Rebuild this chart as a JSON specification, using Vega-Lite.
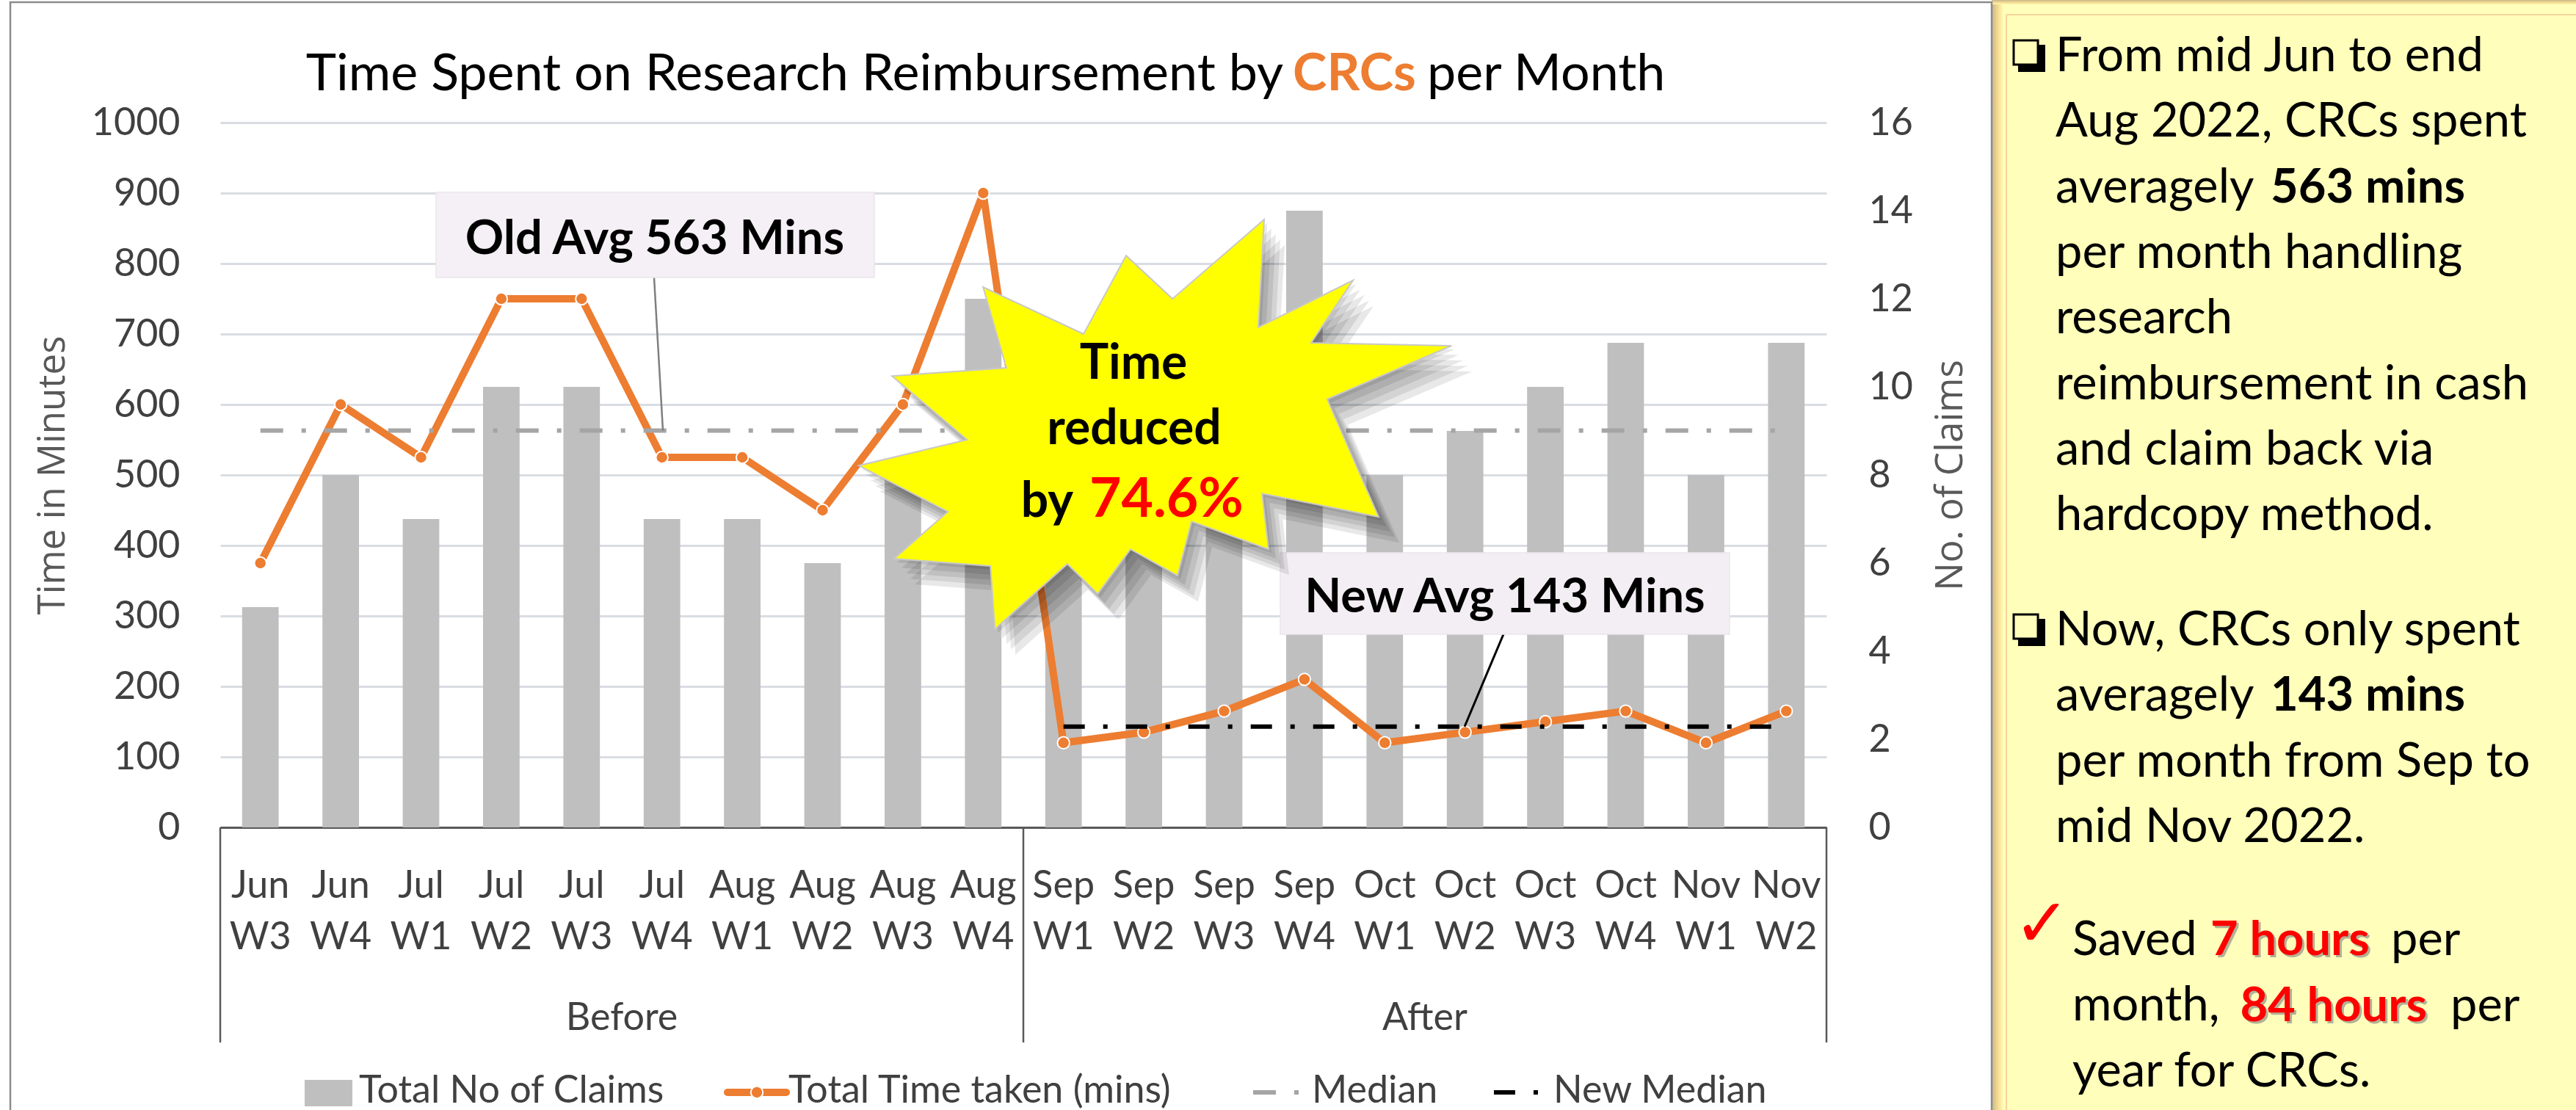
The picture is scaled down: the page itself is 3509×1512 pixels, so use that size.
{
  "$schema": "https://vega.github.io/schema/vega-lite/v6.json",
  "width": 2188,
  "height": 960,
  "autosize": {"type": "none"},
  "padding": {"left": 300, "top": 167, "right": 1021, "bottom": 385},
  "background": "#FFFFFF",
  "config": {"font": "Lato", "view": {"stroke": null}},
  "data": {"values": [
    {"period": "Before", "cat": "Jun W3", "claims": 5, "minutes": 375, "median": 563, "new_median": null},
    {"period": "Before", "cat": "Jun W4", "claims": 8, "minutes": 600, "median": 563, "new_median": null},
    {"period": "Before", "cat": "Jul W1", "claims": 7, "minutes": 525, "median": 563, "new_median": null},
    {"period": "Before", "cat": "Jul W2", "claims": 10, "minutes": 750, "median": 563, "new_median": null},
    {"period": "Before", "cat": "Jul W3", "claims": 10, "minutes": 750, "median": 563, "new_median": null},
    {"period": "Before", "cat": "Jul W4", "claims": 7, "minutes": 525, "median": 563, "new_median": null},
    {"period": "Before", "cat": "Aug W1", "claims": 7, "minutes": 525, "median": 563, "new_median": null},
    {"period": "Before", "cat": "Aug W2", "claims": 6, "minutes": 450, "median": 563, "new_median": null},
    {"period": "Before", "cat": "Aug W3", "claims": 8, "minutes": 600, "median": 563, "new_median": null},
    {"period": "Before", "cat": "Aug W4", "claims": 12, "minutes": 900, "median": 563, "new_median": null},
    {"period": "After", "cat": "Sep W1", "claims": 8, "minutes": 120, "median": 563, "new_median": 143},
    {"period": "After", "cat": "Sep W2", "claims": 9, "minutes": 135, "median": 563, "new_median": 143},
    {"period": "After", "cat": "Sep W3", "claims": 11, "minutes": 165, "median": 563, "new_median": 143},
    {"period": "After", "cat": "Sep W4", "claims": 14, "minutes": 210, "median": 563, "new_median": 143},
    {"period": "After", "cat": "Oct W1", "claims": 8, "minutes": 120, "median": 563, "new_median": 143},
    {"period": "After", "cat": "Oct W2", "claims": 9, "minutes": 135, "median": 563, "new_median": 143},
    {"period": "After", "cat": "Oct W3", "claims": 10, "minutes": 150, "median": 563, "new_median": 143},
    {"period": "After", "cat": "Oct W4", "claims": 11, "minutes": 165, "median": 563, "new_median": 143},
    {"period": "After", "cat": "Nov W1", "claims": 8, "minutes": 120, "median": 563, "new_median": 143},
    {"period": "After", "cat": "Nov W2", "claims": 11, "minutes": 165, "median": 563, "new_median": 143}
  ]},
  "layer": [
    {
      "mark": {"type": "bar", "color": "#BFBFBF", "width": {"band": 0.455}},
      "encoding": {
        "x": {"field": "cat", "type": "nominal", "sort": null,
          "scale": {"type": "band", "paddingInner": 0, "paddingOuter": 0},
          "axis": {"title": null, "labelExpr": "split(datum.value, ' ')", "labelAngle": 0, "labelFontSize": 52, "labelColor": "#404040", "labelLineHeight": 70, "labelPadding": 54, "ticks": false, "domainColor": "#595959", "domainWidth": 3, "grid": false, "labelBaseline": "top"}},
        "y": {"field": "claims", "type": "quantitative",
          "scale": {"domain": [0, 16], "nice": false},
          "axis": {"orient": "right", "values": [0, 2, 4, 6, 8, 10, 12, 14, 16], "grid": false, "domain": false, "ticks": false, "labelPadding": 57, "labelFontSize": 52, "labelColor": "#404040", "title": "No. of Claims", "titleFont": "Open Sans", "titleFontSize": 51, "titleFontWeight": "normal", "titleColor": "#595959", "titleAngle": 270, "titleX": 169, "titleY": 480, "titleAlign": "center", "titleBaseline": "middle"}}
      }
    },
    {
      "mark": {"type": "line", "color": "#ED7D31", "strokeWidth": 10, "strokeJoin": "round"},
      "encoding": {
        "x": {"field": "cat", "type": "nominal", "sort": null, "scale": {"type": "band", "paddingInner": 0, "paddingOuter": 0}, "axis": null},
        "y": {"field": "minutes", "type": "quantitative",
          "scale": {"domain": [0, 1000], "nice": false},
          "axis": {"orient": "left", "values": [0, 100, 200, 300, 400, 500, 600, 700, 800, 900, 1000], "format": "d", "grid": true, "gridColor": "#D9DDE3", "gridWidth": 3, "gridOpacity": 1, "domain": false, "ticks": false, "labelPadding": 55, "labelFontSize": 52, "labelColor": "#404040", "title": "Time in Minutes", "titleFont": "Open Sans", "titleFontSize": 51, "titleFontWeight": "normal", "titleColor": "#595959", "titleAngle": 270, "titleX": -228, "titleY": 480, "titleAlign": "center", "titleBaseline": "middle"}}
      }
    },
    {
      "mark": {"type": "point", "filled": true, "size": 270, "fill": "#ED7D31", "stroke": "#FFFFFF", "strokeWidth": 2, "opacity": 1},
      "encoding": {
        "x": {"field": "cat", "type": "nominal", "sort": null, "scale": {"type": "band", "paddingInner": 0, "paddingOuter": 0}, "axis": null},
        "y": {"field": "minutes", "type": "quantitative", "scale": {"domain": [0, 1000], "nice": false}, "axis": null}
      }
    },
    {
      "mark": {"type": "line", "color": "#A5A5A5", "strokeWidth": 6, "strokeDash": [31, 25, 6, 25]},
      "encoding": {
        "x": {"field": "cat", "type": "nominal", "sort": null, "scale": {"type": "band", "paddingInner": 0, "paddingOuter": 0}, "axis": null},
        "y": {"field": "median", "type": "quantitative", "scale": {"domain": [0, 1000], "nice": false}, "axis": null}
      }
    },
    {
      "mark": {"type": "line", "color": "#000000", "strokeWidth": 6, "strokeDash": [29, 25, 6, 25]},
      "encoding": {
        "x": {"field": "cat", "type": "nominal", "sort": null, "scale": {"type": "band", "paddingInner": 0, "paddingOuter": 0}, "axis": null},
        "y": {"field": "new_median", "type": "quantitative", "scale": {"domain": [0, 1000], "nice": false}, "axis": null}
      }
    },
    {
      "data": {"values": [{}]},
      "layer": [
        {"mark": {"type": "rect", "fill": "#FFFFBB"},
         "encoding": {"x": {"datum": 22.057, "type": "quantitative", "scale": {"domain": [0, 20], "nice": false, "zero": false}, "axis": null}, "x2": {"datum": 29.6},
                      "y": {"datum": 1174, "type": "quantitative", "scale": {"domain": [0, 1000], "nice": false, "zero": false}, "axis": null}, "y2": {"datum": -430}}},
        {"mark": {"type": "rect", "fill": {"gradient": "linear", "x1": 0, "y1": 0, "x2": 1, "y2": 0, "stops": [{"offset": 0, "color": "#C4B68E"}, {"offset": 0.5, "color": "#F2D68D"}, {"offset": 1, "color": "#FFF8B0"}]}},
         "encoding": {"x": {"datum": 22.057, "type": "quantitative", "scale": {"domain": [0, 20], "nice": false, "zero": false}, "axis": null}, "x2": {"datum": 22.194},
                      "y": {"datum": 1174, "type": "quantitative", "scale": {"domain": [0, 1000], "nice": false, "zero": false}, "axis": null}, "y2": {"datum": -430}}},
        {"mark": {"type": "rect", "fill": {"gradient": "linear", "x1": 0, "y1": 0, "x2": 0, "y2": 1, "stops": [{"offset": 0, "color": "#C4B68E"}, {"offset": 0.5, "color": "#F2D68D"}, {"offset": 1, "color": "#FFF8B0"}]}},
         "encoding": {"x": {"datum": 22.057, "type": "quantitative", "scale": {"domain": [0, 20], "nice": false, "zero": false}, "axis": null}, "x2": {"datum": 29.6},
                      "y": {"datum": 1174, "type": "quantitative", "scale": {"domain": [0, 1000], "nice": false, "zero": false}, "axis": null}, "y2": {"datum": 1167.7}}},
        {"mark": {"type": "rule", "color": "#F5C690", "strokeWidth": 1.5},
         "encoding": {"x": {"datum": 22.24, "type": "quantitative", "scale": {"domain": [0, 20], "nice": false, "zero": false}, "axis": null}, "x2": {"datum": 22.24},
                      "y": {"datum": 1153.1, "type": "quantitative", "scale": {"domain": [0, 1000], "nice": false, "zero": false}, "axis": null}, "y2": {"datum": -430}}},
        {"mark": {"type": "rule", "color": "#F5C690", "strokeWidth": 1.5},
         "encoding": {"x": {"datum": 22.24, "type": "quantitative", "scale": {"domain": [0, 20], "nice": false, "zero": false}, "axis": null}, "x2": {"datum": 29.6},
                      "y": {"datum": 1153.1, "type": "quantitative", "scale": {"domain": [0, 1000], "nice": false, "zero": false}, "axis": null}, "y2": {"datum": 1153.1}}},
        {"mark": {"type": "rect", "fillOpacity": 0, "stroke": "#8C8C8C", "strokeWidth": 2.5},
         "encoding": {"x": {"datum": -2.614, "type": "quantitative", "scale": {"domain": [0, 20], "nice": false, "zero": false}, "axis": null}, "x2": {"datum": 22.057},
                      "y": {"datum": 1170.8, "type": "quantitative", "scale": {"domain": [0, 1000], "nice": false, "zero": false}, "axis": null}, "y2": {"datum": -430}}},

        {"mark": {"type": "rule", "color": "#595959", "strokeWidth": 2.5},
         "encoding": {"x": {"datum": 0, "type": "quantitative", "scale": {"domain": [0, 20], "nice": false, "zero": false}, "axis": null},
                      "y": {"datum": 0, "type": "quantitative", "scale": {"domain": [0, 1000], "nice": false, "zero": false}, "axis": null}, "y2": {"datum": -305.2}}},
        {"mark": {"type": "rule", "color": "#595959", "strokeWidth": 2.5},
         "encoding": {"x": {"datum": 10, "type": "quantitative", "scale": {"domain": [0, 20], "nice": false, "zero": false}, "axis": null},
                      "y": {"datum": 0, "type": "quantitative", "scale": {"domain": [0, 1000], "nice": false, "zero": false}, "axis": null}, "y2": {"datum": -305.2}}},
        {"mark": {"type": "rule", "color": "#595959", "strokeWidth": 2.5},
         "encoding": {"x": {"datum": 20, "type": "quantitative", "scale": {"domain": [0, 20], "nice": false, "zero": false}, "axis": null},
                      "y": {"datum": 0, "type": "quantitative", "scale": {"domain": [0, 1000], "nice": false, "zero": false}, "axis": null}, "y2": {"datum": -305.2}}},
        {"mark": {"type": "text", "text": "Before", "fontSize": 52, "color": "#404040", "align": "center", "baseline": "alphabetic"},
         "encoding": {"x": {"datum": 5, "type": "quantitative", "scale": {"domain": [0, 20], "nice": false, "zero": false}, "axis": null},
                      "y": {"datum": -287.5, "type": "quantitative", "scale": {"domain": [0, 1000], "nice": false, "zero": false}, "axis": null}}},
        {"mark": {"type": "text", "text": "After", "fontSize": 52, "color": "#404040", "align": "center", "baseline": "alphabetic"},
         "encoding": {"x": {"datum": 15, "type": "quantitative", "scale": {"domain": [0, 20], "nice": false, "zero": false}, "axis": null},
                      "y": {"datum": -287.5, "type": "quantitative", "scale": {"domain": [0, 1000], "nice": false, "zero": false}, "axis": null}}},

        {"mark": {"type": "rule", "color": "#7F7F7F", "strokeWidth": 2.5},
         "encoding": {"x": {"datum": 5.402, "type": "quantitative", "scale": {"domain": [0, 20], "nice": false, "zero": false}, "axis": null}, "x2": {"datum": 5.512},
                      "y": {"datum": 780.2, "type": "quantitative", "scale": {"domain": [0, 1000], "nice": false, "zero": false}, "axis": null}, "y2": {"datum": 563}}},
        {"mark": {"type": "rect", "fill": "#F5F0F5", "stroke": "#EBE5ED", "strokeWidth": 1.5},
         "encoding": {"x": {"datum": 2.687, "type": "quantitative", "scale": {"domain": [0, 20], "nice": false, "zero": false}, "axis": null}, "x2": {"datum": 8.144},
                      "y": {"datum": 901.0, "type": "quantitative", "scale": {"domain": [0, 1000], "nice": false, "zero": false}, "axis": null}, "y2": {"datum": 780.2}}},
        {"mark": {"type": "text", "text": "Old Avg 563 Mins", "fontSize": 65, "fontWeight": "bold", "color": "#000000", "align": "center", "baseline": "alphabetic"},
         "encoding": {"x": {"datum": 5.411, "type": "quantitative", "scale": {"domain": [0, 20], "nice": false, "zero": false}, "axis": null},
                      "y": {"datum": 813.5, "type": "quantitative", "scale": {"domain": [0, 1000], "nice": false, "zero": false}, "axis": null}}},

        {"mark": {"type": "rule", "color": "#000000", "strokeWidth": 3},
         "encoding": {"x": {"datum": 15.978, "type": "quantitative", "scale": {"domain": [0, 20], "nice": false, "zero": false}, "axis": null}, "x2": {"datum": 15.494},
                      "y": {"datum": 273.96, "type": "quantitative", "scale": {"domain": [0, 1000], "nice": false, "zero": false}, "axis": null}, "y2": {"datum": 143}}},
        {"mark": {"type": "rect", "fill": "#F3EEF3", "stroke": "#EBE5ED", "strokeWidth": 1.5},
         "encoding": {"x": {"datum": 13.199, "type": "quantitative", "scale": {"domain": [0, 20], "nice": false, "zero": false}, "axis": null}, "x2": {"datum": 18.793},
                      "y": {"datum": 389.6, "type": "quantitative", "scale": {"domain": [0, 1000], "nice": false, "zero": false}, "axis": null}, "y2": {"datum": 273.96}}},
        {"mark": {"type": "text", "text": "New Avg 143 Mins", "fontSize": 65, "fontWeight": "bold", "color": "#000000", "align": "center", "baseline": "alphabetic"},
         "encoding": {"x": {"datum": 15.996, "type": "quantitative", "scale": {"domain": [0, 20], "nice": false, "zero": false}, "axis": null},
                      "y": {"datum": 305.2, "type": "quantitative", "scale": {"domain": [0, 1000], "nice": false, "zero": false}, "axis": null}}},

        {"mark": {"type": "point", "shape": "M0.273,-0.726L0.253,-0.359L0.576,-0.519L0.433,-0.306L0.911,-0.296L0.488,-0.114L0.663,0.287L0.266,0.207L0.288,0.397L0.026,0.302L-0.022,0.487L-0.182,0.397L-0.294,0.549L-0.397,0.447L-0.644,0.669L-0.659,0.454L-0.987,0.429L-0.804,0.269L-1.107,0.112L-0.739,0.024L-0.994,-0.193L-0.605,-0.221L-0.684,-0.496L-0.342,-0.336L-0.197,-0.603L-0.039,-0.456Z", "size": 640000, "filled": true, "fill": "#000000", "strokeWidth": 0, "opacity": 0.09},
         "encoding": {"x": {"datum": 12.256, "type": "quantitative", "scale": {"domain": [0, 20], "nice": false, "zero": false}, "axis": null},
                      "y": {"datum": 523.5, "type": "quantitative", "scale": {"domain": [0, 1000], "nice": false, "zero": false}, "axis": null}}},
        {"mark": {"type": "point", "shape": "M0.273,-0.726L0.253,-0.359L0.576,-0.519L0.433,-0.306L0.911,-0.296L0.488,-0.114L0.663,0.287L0.266,0.207L0.288,0.397L0.026,0.302L-0.022,0.487L-0.182,0.397L-0.294,0.549L-0.397,0.447L-0.644,0.669L-0.659,0.454L-0.987,0.429L-0.804,0.269L-1.107,0.112L-0.739,0.024L-0.994,-0.193L-0.605,-0.221L-0.684,-0.496L-0.342,-0.336L-0.197,-0.603L-0.039,-0.456Z", "size": 640000, "filled": true, "fill": "#000000", "strokeWidth": 0, "opacity": 0.09},
         "encoding": {"x": {"datum": 12.201, "type": "quantitative", "scale": {"domain": [0, 20], "nice": false, "zero": false}, "axis": null},
                      "y": {"datum": 531.3, "type": "quantitative", "scale": {"domain": [0, 1000], "nice": false, "zero": false}, "axis": null}}},
        {"mark": {"type": "point", "shape": "M0.273,-0.726L0.253,-0.359L0.576,-0.519L0.433,-0.306L0.911,-0.296L0.488,-0.114L0.663,0.287L0.266,0.207L0.288,0.397L0.026,0.302L-0.022,0.487L-0.182,0.397L-0.294,0.549L-0.397,0.447L-0.644,0.669L-0.659,0.454L-0.987,0.429L-0.804,0.269L-1.107,0.112L-0.739,0.024L-0.994,-0.193L-0.605,-0.221L-0.684,-0.496L-0.342,-0.336L-0.197,-0.603L-0.039,-0.456Z", "size": 640000, "filled": true, "fill": "#000000", "strokeWidth": 0, "opacity": 0.09},
         "encoding": {"x": {"datum": 12.146, "type": "quantitative", "scale": {"domain": [0, 20], "nice": false, "zero": false}, "axis": null},
                      "y": {"datum": 539.2, "type": "quantitative", "scale": {"domain": [0, 1000], "nice": false, "zero": false}, "axis": null}}},
        {"mark": {"type": "point", "shape": "M0.273,-0.726L0.253,-0.359L0.576,-0.519L0.433,-0.306L0.911,-0.296L0.488,-0.114L0.663,0.287L0.266,0.207L0.288,0.397L0.026,0.302L-0.022,0.487L-0.182,0.397L-0.294,0.549L-0.397,0.447L-0.644,0.669L-0.659,0.454L-0.987,0.429L-0.804,0.269L-1.107,0.112L-0.739,0.024L-0.994,-0.193L-0.605,-0.221L-0.684,-0.496L-0.342,-0.336L-0.197,-0.603L-0.039,-0.456Z", "size": 640000, "filled": true, "fill": "#000000", "strokeWidth": 0, "opacity": 0.09},
         "encoding": {"x": {"datum": 12.091, "type": "quantitative", "scale": {"domain": [0, 20], "nice": false, "zero": false}, "axis": null},
                      "y": {"datum": 547.0, "type": "quantitative", "scale": {"domain": [0, 1000], "nice": false, "zero": false}, "axis": null}}},
        {"mark": {"type": "point", "shape": "M0.273,-0.726L0.253,-0.359L0.576,-0.519L0.433,-0.306L0.911,-0.296L0.488,-0.114L0.663,0.287L0.266,0.207L0.288,0.397L0.026,0.302L-0.022,0.487L-0.182,0.397L-0.294,0.549L-0.397,0.447L-0.644,0.669L-0.659,0.454L-0.987,0.429L-0.804,0.269L-1.107,0.112L-0.739,0.024L-0.994,-0.193L-0.605,-0.221L-0.684,-0.496L-0.342,-0.336L-0.197,-0.603L-0.039,-0.456Z", "size": 640000, "filled": true, "fill": "#000000", "strokeWidth": 0, "opacity": 0.09},
         "encoding": {"x": {"datum": 12.037, "type": "quantitative", "scale": {"domain": [0, 20], "nice": false, "zero": false}, "axis": null},
                      "y": {"datum": 554.8, "type": "quantitative", "scale": {"domain": [0, 1000], "nice": false, "zero": false}, "axis": null}}},
        {"mark": {"type": "point", "shape": "M0.273,-0.726L0.253,-0.359L0.576,-0.519L0.433,-0.306L0.911,-0.296L0.488,-0.114L0.663,0.287L0.266,0.207L0.288,0.397L0.026,0.302L-0.022,0.487L-0.182,0.397L-0.294,0.549L-0.397,0.447L-0.644,0.669L-0.659,0.454L-0.987,0.429L-0.804,0.269L-1.107,0.112L-0.739,0.024L-0.994,-0.193L-0.605,-0.221L-0.684,-0.496L-0.342,-0.336L-0.197,-0.603L-0.039,-0.456Z", "size": 640000, "filled": true, "fill": "#FFFF00", "stroke": "#C8C8C8", "strokeWidth": 2, "opacity": 1},
         "encoding": {"x": {"datum": 12, "type": "quantitative", "scale": {"domain": [0, 20], "nice": false, "zero": false}, "axis": null},
                      "y": {"datum": 560, "type": "quantitative", "scale": {"domain": [0, 1000], "nice": false, "zero": false}, "axis": null}}},
        {"mark": {"type": "text", "text": "Time", "fontSize": 66, "fontWeight": "bold", "color": "#000000", "align": "center", "baseline": "alphabetic"},
         "encoding": {"x": {"datum": 11.371, "type": "quantitative", "scale": {"domain": [0, 20], "nice": false, "zero": false}, "axis": null},
                      "y": {"datum": 636.5, "type": "quantitative", "scale": {"domain": [0, 1000], "nice": false, "zero": false}, "axis": null}}},
        {"mark": {"type": "text", "text": "reduced", "fontSize": 66, "fontWeight": "bold", "color": "#000000", "align": "center", "baseline": "alphabetic"},
         "encoding": {"x": {"datum": 11.38, "type": "quantitative", "scale": {"domain": [0, 20], "nice": false, "zero": false}, "axis": null},
                      "y": {"datum": 543.75, "type": "quantitative", "scale": {"domain": [0, 1000], "nice": false, "zero": false}, "axis": null}}},
        {"mark": {"type": "text", "text": "by", "fontSize": 66, "fontWeight": "bold", "color": "#000000", "align": "right", "baseline": "alphabetic"},
         "encoding": {"x": {"datum": 10.622, "type": "quantitative", "scale": {"domain": [0, 20], "nice": false, "zero": false}, "axis": null},
                      "y": {"datum": 440.6, "type": "quantitative", "scale": {"domain": [0, 1000], "nice": false, "zero": false}, "axis": null}}},
        {"mark": {"type": "text", "text": "74.6%", "fontSize": 75, "fontWeight": "bold", "color": "#FF0000", "align": "left", "baseline": "alphabetic"},
         "encoding": {"x": {"datum": 10.823, "type": "quantitative", "scale": {"domain": [0, 20], "nice": false, "zero": false}, "axis": null},
                      "y": {"datum": 440.6, "type": "quantitative", "scale": {"domain": [0, 1000], "nice": false, "zero": false}, "axis": null}}},

        {"mark": {"type": "text", "text": "Time Spent on Research Reimbursement by", "fontSize": 70, "color": "#000000", "align": "right", "baseline": "alphabetic"},
         "encoding": {"x": {"datum": 13.236, "type": "quantitative", "scale": {"domain": [0, 20], "nice": false, "zero": false}, "axis": null},
                      "y": {"datum": 1045.8, "type": "quantitative", "scale": {"domain": [0, 1000], "nice": false, "zero": false}, "axis": null}}},
        {"mark": {"type": "text", "text": "CRCs", "fontSize": 70, "fontWeight": "bold", "color": "#ED7D31", "align": "center", "baseline": "alphabetic"},
         "encoding": {"x": {"datum": 14.122, "type": "quantitative", "scale": {"domain": [0, 20], "nice": false, "zero": false}, "axis": null},
                      "y": {"datum": 1045.8, "type": "quantitative", "scale": {"domain": [0, 1000], "nice": false, "zero": false}, "axis": null}}},
        {"mark": {"type": "text", "text": "per Month", "fontSize": 70, "color": "#000000", "align": "left", "baseline": "alphabetic"},
         "encoding": {"x": {"datum": 15.027, "type": "quantitative", "scale": {"domain": [0, 20], "nice": false, "zero": false}, "axis": null},
                      "y": {"datum": 1045.8, "type": "quantitative", "scale": {"domain": [0, 1000], "nice": false, "zero": false}, "axis": null}}},

        {"mark": {"type": "rect", "fill": "#BFBFBF"},
         "encoding": {"x": {"datum": 1.051, "type": "quantitative", "scale": {"domain": [0, 20], "nice": false, "zero": false}, "axis": null}, "x2": {"datum": 1.645},
                      "y": {"datum": -358.3, "type": "quantitative", "scale": {"domain": [0, 1000], "nice": false, "zero": false}, "axis": null}, "y2": {"datum": -395.8}}},
        {"mark": {"type": "rule", "color": "#ED7D31", "strokeWidth": 10, "strokeCap": "round"},
         "encoding": {"x": {"datum": 6.316, "type": "quantitative", "scale": {"domain": [0, 20], "nice": false, "zero": false}, "axis": null}, "x2": {"datum": 7.048},
                      "y": {"datum": -376.0, "type": "quantitative", "scale": {"domain": [0, 1000], "nice": false, "zero": false}, "axis": null}}},
        {"mark": {"type": "point", "filled": true, "size": 270, "fill": "#ED7D31", "stroke": "#FFFFFF", "strokeWidth": 2, "opacity": 1},
         "encoding": {"x": {"datum": 6.682, "type": "quantitative", "scale": {"domain": [0, 20], "nice": false, "zero": false}, "axis": null},
                      "y": {"datum": -376.0, "type": "quantitative", "scale": {"domain": [0, 1000], "nice": false, "zero": false}, "axis": null}}},
        {"mark": {"type": "rule", "color": "#A5A5A5", "strokeWidth": 6, "strokeDash": [31, 25, 6, 25]},
         "encoding": {"x": {"datum": 12.861, "type": "quantitative", "scale": {"domain": [0, 20], "nice": false, "zero": false}, "axis": null}, "x2": {"datum": 13.464},
                      "y": {"datum": -376.0, "type": "quantitative", "scale": {"domain": [0, 1000], "nice": false, "zero": false}, "axis": null}}},
        {"mark": {"type": "rule", "color": "#000000", "strokeWidth": 6, "strokeDash": [29, 25, 6, 25]},
         "encoding": {"x": {"datum": 15.859, "type": "quantitative", "scale": {"domain": [0, 20], "nice": false, "zero": false}, "axis": null}, "x2": {"datum": 16.463},
                      "y": {"datum": -376.0, "type": "quantitative", "scale": {"domain": [0, 1000], "nice": false, "zero": false}, "axis": null}}},
        {"mark": {"type": "text", "text": "Total No of Claims", "fontSize": 52, "color": "#404040", "align": "left", "baseline": "alphabetic"},
         "encoding": {"x": {"datum": 1.728, "type": "quantitative", "scale": {"domain": [0, 20], "nice": false, "zero": false}, "axis": null},
                      "y": {"datum": -390.6, "type": "quantitative", "scale": {"domain": [0, 1000], "nice": false, "zero": false}, "axis": null}}},
        {"mark": {"type": "text", "text": "Total Time taken (mins)", "fontSize": 52, "color": "#404040", "align": "left", "baseline": "alphabetic"},
         "encoding": {"x": {"datum": 7.075, "type": "quantitative", "scale": {"domain": [0, 20], "nice": false, "zero": false}, "axis": null},
                      "y": {"datum": -390.6, "type": "quantitative", "scale": {"domain": [0, 1000], "nice": false, "zero": false}, "axis": null}}},
        {"mark": {"type": "text", "text": "Median", "fontSize": 52, "color": "#404040", "align": "left", "baseline": "alphabetic"},
         "encoding": {"x": {"datum": 13.592, "type": "quantitative", "scale": {"domain": [0, 20], "nice": false, "zero": false}, "axis": null},
                      "y": {"datum": -390.6, "type": "quantitative", "scale": {"domain": [0, 1000], "nice": false, "zero": false}, "axis": null}}},
        {"mark": {"type": "text", "text": "New Median", "fontSize": 52, "color": "#404040", "align": "left", "baseline": "alphabetic"},
         "encoding": {"x": {"datum": 16.6, "type": "quantitative", "scale": {"domain": [0, 20], "nice": false, "zero": false}, "axis": null},
                      "y": {"datum": -390.6, "type": "quantitative", "scale": {"domain": [0, 1000], "nice": false, "zero": false}, "axis": null}}},

        {"mark": {"type": "rect", "fill": "#000000"},
         "encoding": {"x": {"datum": 22.386, "type": "quantitative", "scale": {"domain": [0, 20], "nice": false, "zero": false}, "axis": null}, "x2": {"datum": 22.724},
                      "y": {"datum": 1110.4, "type": "quantitative", "scale": {"domain": [0, 1000], "nice": false, "zero": false}, "axis": null}, "y2": {"datum": 1071.9}}},
        {"mark": {"type": "rect", "fill": "#FFFFBB", "stroke": "#000000", "strokeWidth": 3},
         "encoding": {"x": {"datum": 22.331, "type": "quantitative", "scale": {"domain": [0, 20], "nice": false, "zero": false}, "axis": null}, "x2": {"datum": 22.633},
                      "y": {"datum": 1116.7, "type": "quantitative", "scale": {"domain": [0, 1000], "nice": false, "zero": false}, "axis": null}, "y2": {"datum": 1082.3}}},
        {"mark": {"type": "rect", "fill": "#000000"},
         "encoding": {"x": {"datum": 22.386, "type": "quantitative", "scale": {"domain": [0, 20], "nice": false, "zero": false}, "axis": null}, "x2": {"datum": 22.724},
                      "y": {"datum": 295.8, "type": "quantitative", "scale": {"domain": [0, 1000], "nice": false, "zero": false}, "axis": null}, "y2": {"datum": 257.3}}},
        {"mark": {"type": "rect", "fill": "#FFFFBB", "stroke": "#000000", "strokeWidth": 3},
         "encoding": {"x": {"datum": 22.331, "type": "quantitative", "scale": {"domain": [0, 20], "nice": false, "zero": false}, "axis": null}, "x2": {"datum": 22.633},
                      "y": {"datum": 302.1, "type": "quantitative", "scale": {"domain": [0, 1000], "nice": false, "zero": false}, "axis": null}, "y2": {"datum": 267.7}}},
        {"mark": {"type": "text", "text": "✓", "font": "DejaVu Sans", "fontSize": 92, "fontWeight": "bold", "color": "#FF0000", "align": "left", "baseline": "alphabetic"},
         "encoding": {"x": {"datum": 22.33, "type": "quantitative", "scale": {"domain": [0, 20], "nice": false, "zero": false}, "axis": null},
                      "y": {"datum": -168.75, "type": "quantitative", "scale": {"domain": [0, 1000], "nice": false, "zero": false}, "axis": null}}},
        {"mark": {"type": "text", "text": ["From mid Jun to end", "Aug 2022, CRCs spent", "averagely", "per month handling", "research", "reimbursement in cash", "and claim back via", "hardcopy method."], "lineHeight": 89.3, "fontSize": 65, "color": "#000000", "align": "left", "baseline": "alphabetic"},
         "encoding": {"x": {"datum": 22.852, "type": "quantitative", "scale": {"domain": [0, 20], "nice": false, "zero": false}, "axis": null},
                      "y": {"datum": 1072.9, "type": "quantitative", "scale": {"domain": [0, 1000], "nice": false, "zero": false}, "axis": null}}},
        {"mark": {"type": "text", "text": "563 mins", "fontSize": 65, "fontWeight": "bold", "color": "#000000", "align": "left", "baseline": "alphabetic"},
         "encoding": {"x": {"datum": 25.53, "type": "quantitative", "scale": {"domain": [0, 20], "nice": false, "zero": false}, "axis": null},
                      "y": {"datum": 886.5, "type": "quantitative", "scale": {"domain": [0, 1000], "nice": false, "zero": false}, "axis": null}}},
        {"mark": {"type": "text", "text": ["Now, CRCs only spent", "averagely", "per month from Sep to", "mid Nov 2022."], "lineHeight": 89.3, "fontSize": 65, "color": "#000000", "align": "left", "baseline": "alphabetic"},
         "encoding": {"x": {"datum": 22.852, "type": "quantitative", "scale": {"domain": [0, 20], "nice": false, "zero": false}, "axis": null},
                      "y": {"datum": 258.3, "type": "quantitative", "scale": {"domain": [0, 1000], "nice": false, "zero": false}, "axis": null}}},
        {"mark": {"type": "text", "text": "143 mins", "fontSize": 65, "fontWeight": "bold", "color": "#000000", "align": "left", "baseline": "alphabetic"},
         "encoding": {"x": {"datum": 25.53, "type": "quantitative", "scale": {"domain": [0, 20], "nice": false, "zero": false}, "axis": null},
                      "y": {"datum": 165.6, "type": "quantitative", "scale": {"domain": [0, 1000], "nice": false, "zero": false}, "axis": null}}},
        {"mark": {"type": "text", "text": ["Saved", "month,", "year for CRCs."], "lineHeight": 89.3, "fontSize": 65, "color": "#000000", "align": "left", "baseline": "alphabetic"},
         "encoding": {"x": {"datum": 23.062, "type": "quantitative", "scale": {"domain": [0, 20], "nice": false, "zero": false}, "axis": null},
                      "y": {"datum": -181.25, "type": "quantitative", "scale": {"domain": [0, 1000], "nice": false, "zero": false}, "axis": null}}},
        {"mark": {"type": "text", "text": "7 hours", "fontSize": 65, "fontWeight": "bold", "color": "#7F7F7F", "opacity": 0.6, "dx": 3, "dy": 3, "align": "left", "baseline": "alphabetic"},
         "encoding": {"x": {"datum": 24.78, "type": "quantitative", "scale": {"domain": [0, 20], "nice": false, "zero": false}, "axis": null},
                      "y": {"datum": -181.25, "type": "quantitative", "scale": {"domain": [0, 1000], "nice": false, "zero": false}, "axis": null}}},
        {"mark": {"type": "text", "text": "7 hours", "fontSize": 65, "fontWeight": "bold", "color": "#FF0000", "align": "left", "baseline": "alphabetic"},
         "encoding": {"x": {"datum": 24.78, "type": "quantitative", "scale": {"domain": [0, 20], "nice": false, "zero": false}, "axis": null},
                      "y": {"datum": -181.25, "type": "quantitative", "scale": {"domain": [0, 1000], "nice": false, "zero": false}, "axis": null}}},
        {"mark": {"type": "text", "text": "per", "fontSize": 65, "color": "#000000", "align": "left", "baseline": "alphabetic"},
         "encoding": {"x": {"datum": 27.03, "type": "quantitative", "scale": {"domain": [0, 20], "nice": false, "zero": false}, "axis": null},
                      "y": {"datum": -181.25, "type": "quantitative", "scale": {"domain": [0, 1000], "nice": false, "zero": false}, "axis": null}}},
        {"mark": {"type": "text", "text": "84 hours", "fontSize": 65, "fontWeight": "bold", "color": "#7F7F7F", "opacity": 0.6, "dx": 3, "dy": 3, "align": "left", "baseline": "alphabetic"},
         "encoding": {"x": {"datum": 25.15, "type": "quantitative", "scale": {"domain": [0, 20], "nice": false, "zero": false}, "axis": null},
                      "y": {"datum": -275, "type": "quantitative", "scale": {"domain": [0, 1000], "nice": false, "zero": false}, "axis": null}}},
        {"mark": {"type": "text", "text": "84 hours", "fontSize": 65, "fontWeight": "bold", "color": "#FF0000", "align": "left", "baseline": "alphabetic"},
         "encoding": {"x": {"datum": 25.15, "type": "quantitative", "scale": {"domain": [0, 20], "nice": false, "zero": false}, "axis": null},
                      "y": {"datum": -275, "type": "quantitative", "scale": {"domain": [0, 1000], "nice": false, "zero": false}, "axis": null}}},
        {"mark": {"type": "text", "text": "per", "fontSize": 65, "color": "#000000", "align": "left", "baseline": "alphabetic"},
         "encoding": {"x": {"datum": 27.77, "type": "quantitative", "scale": {"domain": [0, 20], "nice": false, "zero": false}, "axis": null},
                      "y": {"datum": -275, "type": "quantitative", "scale": {"domain": [0, 1000], "nice": false, "zero": false}, "axis": null}}}
      ]
    }
  ],
  "resolve": {"scale": {"x": "independent", "y": "independent"}}
}
